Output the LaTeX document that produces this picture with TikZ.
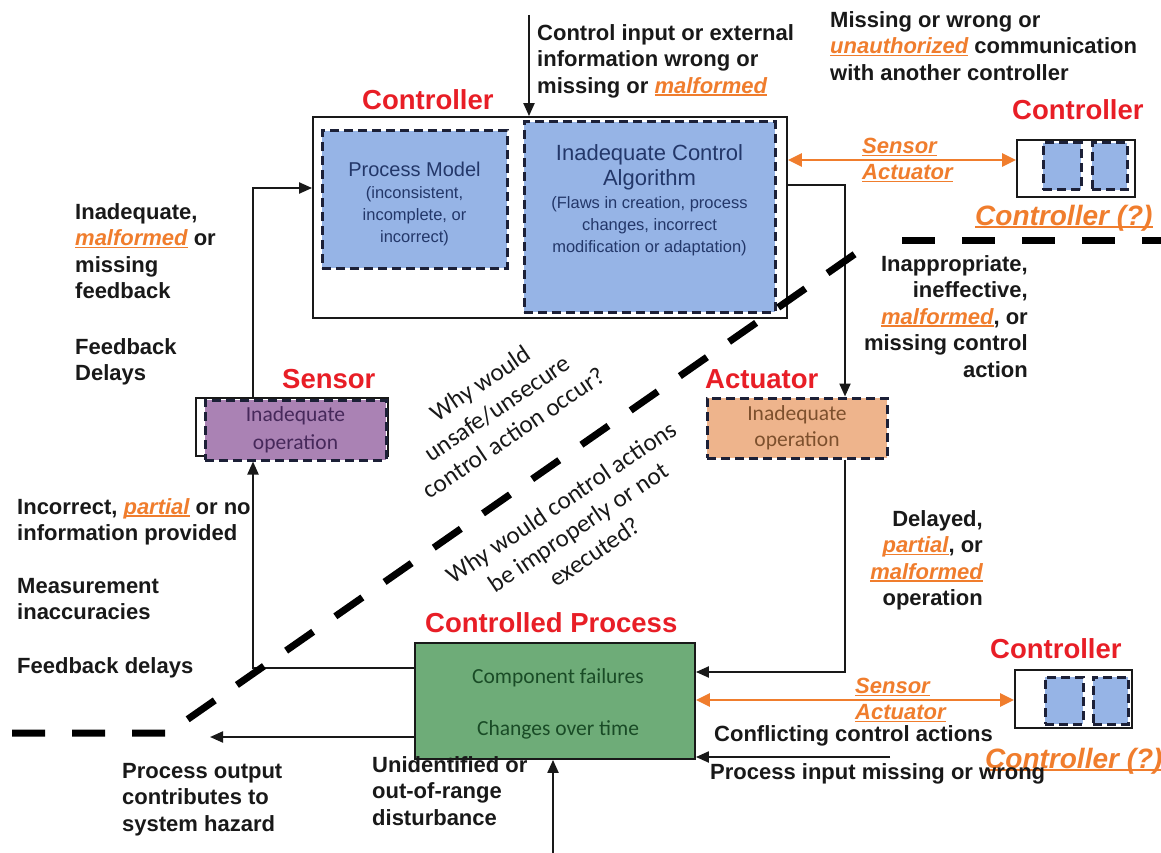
\documentclass[tikz,border=0pt]{standalone}
\usepackage{fontspec}
\setmainfont{Liberation Sans}
\newfontfamily\calfont{Carlito}
\usetikzlibrary{arrows.meta}

\definecolor{lblred}{RGB}{232,30,38}
\definecolor{orng}{RGB}{240,125,45}
\definecolor{ink}{RGB}{25,25,25}
\definecolor{pmfill}{RGB}{150,180,230}
\definecolor{pmtext}{RGB}{35,55,105}
\definecolor{snfill}{RGB}{170,130,180}
\definecolor{sntext}{RGB}{70,40,90}
\definecolor{acfill}{RGB}{238,180,140}
\definecolor{actext}{RGB}{125,80,45}
\definecolor{prfill}{RGB}{110,172,120}
\definecolor{prtext}{RGB}{25,75,38}
\definecolor{dashink}{RGB}{28,32,55}

% orange, italic, underlined keyword
\newcommand\orul[1]{{\color{orng}\itshape\sbox0{#1}\rlap{\rule[-2.6pt]{\wd0}{1.5pt}}\usebox0}}

\tikzset{
  lbl/.style={font=\fontsize{22}{26.5}\selectfont\bfseries, text=ink, inner sep=0pt},
  redlbl/.style={font=\fontsize{27.5}{32}\selectfont\bfseries, text=lblred, inner sep=0pt, anchor=base west},
  qlbl/.style={font=\fontsize{28}{32}\selectfont\bfseries\itshape, inner sep=0pt, anchor=base west},
  salbl/.style={font=\fontsize{22}{26}\selectfont\bfseries, inner sep=0pt, anchor=north west, align=left},
  whylbl/.style={font=\calfont\fontsize{25}{30}\selectfont, text=ink, inner sep=0pt, align=center, rotate=34},
  boxtitle/.style={text=pmtext, align=center, inner sep=0pt, anchor=north},
  boxsub/.style={text=pmtext, align=center, inner sep=0pt, anchor=north, font=\fontsize{16.5}{22}\selectfont},
  framebox/.style={draw=ink, line width=1.8pt, rectangle, inner sep=0pt},
  dbox/.style={draw=dashink, line width=3pt, dash pattern=on 9pt off 5pt, rectangle, inner sep=0pt},
  arr/.style={draw=ink, line width=2.1pt, -{Triangle[length=13pt,width=11pt]}},
  oarr/.style={draw=orng, line width=2.8pt, {Triangle[length=14pt,width=13pt]}-{Triangle[length=14pt,width=13pt]}},
  sep/.style={draw=black, line width=7pt, dash pattern=on 33pt off 27pt}
}

\begin{document}
\begin{tikzpicture}[x=1pt,y=-1pt]
\useasboundingbox (0,0) rectangle (1161,853);
\fill[white] (0,0) rectangle (1161,853);

% ---------------- Controller ----------------
\node[framebox, minimum width=474pt, minimum height=201pt] (ctrl) at (550,217.5) {};
\node[dbox, fill=pmfill, minimum width=185pt, minimum height=137pt] (pm) at (414.5,199.5) {};
\node[dbox, fill=pmfill, minimum width=251pt, minimum height=190pt] (alg) at (649.5,217) {};
\node[boxtitle, font=\fontsize{20}{25}\selectfont] (pmt) at (414.5,162) {Process Model};
\node[boxsub] (pms) at (414.5,186) {(inconsistent,\\incomplete, or\\incorrect)};
\node[boxtitle, font=\fontsize{22}{25}\selectfont] (algt) at (649.5,144) {Inadequate Control\\Algorithm};
\node[boxsub] (algs) at (649.5,196) {(Flaws in creation, process\\changes, incorrect\\modification or adaptation)};
\node[redlbl] (ctrll) at (362,110) {Controller};

% ---------------- Sensor / Actuator ----------------
\node[draw=ink, line width=1.2pt, minimum width=192pt, minimum height=58pt, inner sep=0pt] (senso) at (292,427) {};
\node[dbox, fill=snfill, minimum width=181pt, minimum height=60pt, text=sntext, align=center,
      font=\calfont\fontsize{21.5}{28}\selectfont] (sens) at (295.5,430) {Inadequate\\operation};
\node[redlbl] (sensl) at (282,388) {Sensor};

\node[dbox, fill=acfill, minimum width=180pt, minimum height=60pt, text=actext, align=center,
      font=\calfont\fontsize{21.5}{26}\selectfont] (act) at (797,428) {Inadequate\\operation};
\node[redlbl] (actl) at (705,388) {Actuator};

% ---------------- Controlled process ----------------
\node[draw=ink, line width=1.8pt, fill=prfill, minimum width=280pt, minimum height=116pt, inner sep=0pt] (proc) at (555,701) {};
\node[text=prtext, font=\calfont\fontsize{21.5}{26}\selectfont, inner sep=0pt] (pr1) at (558,678) {Component failures};
\node[text=prtext, font=\calfont\fontsize{21.5}{26}\selectfont, inner sep=0pt] (pr2) at (558,730) {Changes over time};
\node[redlbl] (procl) at (425,632) {Controlled Process};

% ---------------- Other controllers ----------------
\node[framebox, minimum width=118pt, minimum height=57pt] (cr1) at (1076,168.5) {};
\node[dbox, fill=pmfill, minimum width=38pt, minimum height=47pt] (cr1a) at (1062,166.5) {};
\node[dbox, fill=pmfill, minimum width=35pt, minimum height=47pt] (cr1b) at (1109.5,166.5) {};
\node[redlbl] (cr1l) at (1012,120) {Controller};
\node[qlbl] (cr1q) at (975,225) {\orul{Controller (?)}};

\node[framebox, minimum width=117pt, minimum height=58pt] (cr2) at (1073.5,699) {};
\node[dbox, fill=pmfill, minimum width=38pt, minimum height=47pt] (cr2a) at (1064,700.5) {};
\node[dbox, fill=pmfill, minimum width=35pt, minimum height=47pt] (cr2b) at (1110.5,700.5) {};
\node[redlbl] (cr2l) at (990,658) {Controller};
\node[qlbl] (cr2q) at (985,768) {\orul{Controller (?)}};

% orange links to the other controllers
\coordinate (oy1) at (0,160);
\coordinate (oy2) at (0,700);
\draw[oarr] (ctrl.east |- oy1) -- (cr1.west |- oy1);
\draw[oarr] (proc.east |- oy2) -- (cr2.west |- oy2);
\node[salbl] (sa1) at (862,138) {\orul{Sensor}\\\orul{Actuator}};
\node[salbl] (sa2) at (855,678) {\orul{Sensor}\\\orul{Actuator}};

% ---------------- Control loop connectors ----------------
\coordinate (tin) at (529,15);
\draw[arr] (tin) -- (tin |- ctrl.north);

\coordinate (fbx) at (253,0);
\coordinate (fby) at (0,188);
\draw[arr] (senso.north -| fbx) |- (ctrl.west |- fby);
\coordinate (fb2) at (0,668);
\draw[arr] (proc.west |- fb2) -| (sens.south -| fbx);

\coordinate (ax) at (845,0);
\coordinate (cy) at (0,185);
\draw[arr] (ctrl.east |- cy) -| (act.north -| ax);
\coordinate (py) at (0,672);
\draw[arr] (act.south -| ax) |- (proc.east |- py);

\coordinate (hz) at (210,737);
\draw[arr] (proc.west |- hz) -- (hz);
\coordinate (dist) at (553,853);
\draw[arr] (dist) -- (dist |- proc.south);
\coordinate (pin) at (890,757);
\draw[arr] (pin) -- (pin -| proc.east);

% ---------------- Dashed boundary ----------------
\draw[sep] (12,733) -- (168,733) -- (875,240);
\draw[sep, dash phase=33pt] (875,240) -- (1161,240);

% ---------------- Annotations ----------------
\node[lbl, anchor=north west, align=left] (tci) at (537,24)
  {Control input or external\\information wrong or\\missing or \orul{malformed}};
\node[lbl, anchor=north west, align=left] (tcom) at (830,11)
  {Missing or wrong or\\\orul{unauthorized} communication\\with another controller};

\node[lbl, anchor=north west, align=left] (lf1) at (75,203)
  {Inadequate,\\\orul{malformed} or\\missing\\feedback};
\node[lbl, anchor=north west, align=left] (lf2) at (75,338) {Feedback\\Delays};

\node[lbl, anchor=north west, align=left] (ls1) at (17,498)
  {Incorrect, \orul{partial} or no\\information provided};
\node[lbl, anchor=north west, align=left] (ls2) at (17,578) {Measurement\\inaccuracies};
\node[lbl, anchor=north west, align=left] (ls3) at (17,657) {Feedback delays};

\node[lbl, anchor=north east, align=right] (ra1) at (1028,255)
  {Inappropriate,\\ineffective,\\\orul{malformed}, or\\missing control\\action};
\node[lbl, anchor=north east, align=right] (ra2) at (983,510)
  {Delayed,\\\orul{partial}, or\\\orul{malformed}\\operation};

\node[lbl, anchor=north west, align=left] (po) at (122,763)
  {Process output\\contributes to\\system hazard};
\node[lbl, anchor=north west, align=left] (ud) at (372,756)
  {Unidentified or\\out-of-range\\disturbance};
\node[lbl, anchor=north west] (cc) at (714,725) {Conflicting control actions};
\node[lbl, anchor=north west] (pi) at (710,763) {Process input missing or wrong};

% questions along the boundary
\node[whylbl] (q1) at (497,408) {Why would\\unsafe/unsecure\\control action occur?};
\node[whylbl] (q2) at (578,527) {Why would control actions\\be improperly or not\\executed?};

\end{tikzpicture}
\end{document}
